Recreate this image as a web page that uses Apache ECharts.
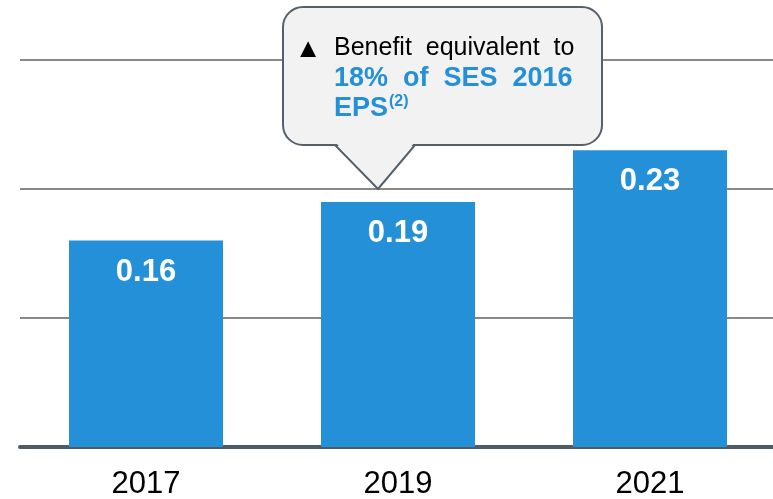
<!DOCTYPE html>
<html lang="en">
<head>
	<meta charset="utf-8">
	<title>Benefit per share</title>
	<script src="https://cdn.jsdelivr.net/npm/echarts@6/dist/echarts.min.js"></script>
	<style>
		html, body { margin: 0; padding: 0; background: #fff; }
		#main { width: 773px; height: 499px; }
	</style>
</head>
<body>
	<div id="main"></div>
	<script type="text/javascript">
		var years = ['2017', '2019', '2021'];
		var benefit = [0.16, 0.19, 0.23];
		var yTicks = [0, 0.1, 0.2, 0.3];

		var blue = '#2490d8';
		var font = 'Arial, "Liberation Sans", sans-serif';

		var myChart = echarts.init(document.getElementById('main'));

		// callout bubble (annotation, pixel placed)
		var bubbleFill = '#f2f2f2';
		var bubbleLine = '#56606a';

		var option = {
			animation: false,
			grid: {
				left: 20,
				right: -3,
				top: 60,
				bottom: 52,
				containLabel: false,
				outerBoundsMode: 'none'
			},
			xAxis: {
				type: 'category',
				data: years,
				axisTick: { show: false },
				axisLine: { lineStyle: { color: '#4e5a65', width: 4 } },
				axisLabel: { color: '#000', fontFamily: font, fontSize: 31, margin: 22 }
			},
			yAxis: {
				type: 'value',
				min: yTicks[0],
				max: yTicks[yTicks.length - 1],
				interval: 0.1,
				axisLabel: { show: false },
				axisLine: { show: false },
				axisTick: { show: false },
				splitLine: { lineStyle: { color: '#888888', width: 2 } }
			},
			series: [
				{
					type: 'bar',
					data: benefit,
					barWidth: 154,
					itemStyle: { color: blue },
					label: {
						show: true,
						position: 'insideTop',
						distance: 16,
						color: '#fff',
						fontFamily: font,
						fontWeight: 'bold',
						fontSize: 31,
						formatter: function (p) { return p.value.toFixed(2); }
					}
				}
			],
			graphic: [
				{
					type: 'rect',
					z: 100,
					shape: { x: 283, y: 7, width: 319, height: 138, r: 20 },
					style: { fill: bubbleFill, stroke: bubbleLine, lineWidth: 2 }
				},
				{
					type: 'polygon',
					z: 101,
					shape: { points: [[336, 143], [414, 143], [378, 188]] },
					style: { fill: bubbleFill }
				},
				{
					type: 'polyline',
					z: 102,
					shape: { points: [[335, 145], [378, 189], [415, 145]] },
					style: { fill: null, stroke: bubbleLine, lineWidth: 2 }
				},
				{
					type: 'text',
					z: 103,
					x: 308,
					y: 50,
					style: { text: '▲', fill: '#000', font: '27px ' + font, align: 'center', verticalAlign: 'middle' }
				},
				{
					type: 'text',
					z: 103,
					left: 334,
					top: 36,
					style: {
						text: '{n|Benefit  equivalent  to}\n{b|18%  of  SES  2016}\n{b|EPS}{s|(2)}',
						rich: {
							n: { fill: '#000', fontFamily: font, fontSize: 25, lineHeight: 31 },
							b: { fill: blue, fontFamily: font, fontSize: 27, fontWeight: 'bold', lineHeight: 30 },
							s: { fill: blue, fontFamily: font, fontSize: 16, fontWeight: 'bold', lineHeight: 30, verticalAlign: 'top', padding: [0, 0, 10, 1] }
						}
					}
				}
			]
		};

		myChart.setOption(option);
	</script>
</body>
</html>
